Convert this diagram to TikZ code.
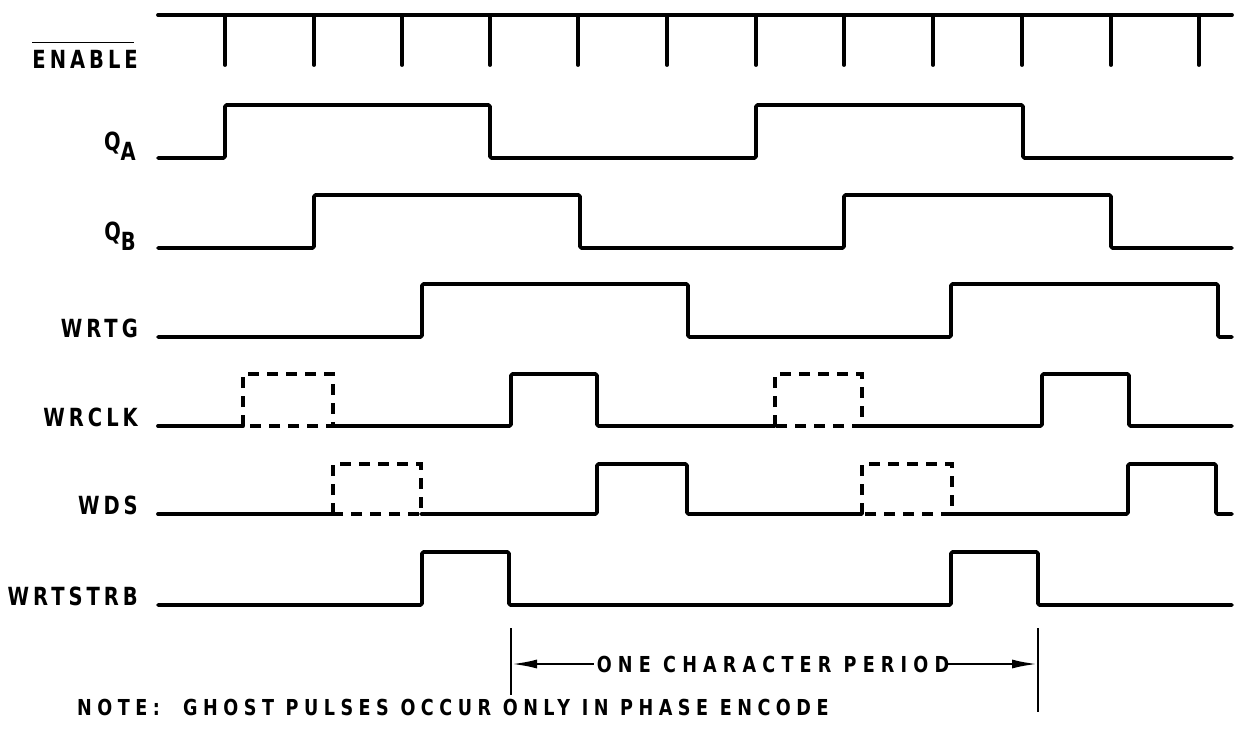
\documentclass[tikz,border=0pt]{standalone}
\usepackage{fontspec}
\usetikzlibrary{arrows.meta}
\newfontfamily\lblfont[FakeStretch=0.78, LetterSpace=16]{DejaVu Sans}
\newfontfamily\notefont[FakeStretch=0.8, LetterSpace=25]{DejaVu Sans}
\newfontfamily\periodfont[FakeStretch=0.8, LetterSpace=28]{DejaVu Sans}
\tikzset{
  wave/.style={draw=black, line width=3.8pt, line join=round, line cap=round, rounded corners=1.5pt},
  ghost/.style={draw=black, line width=3.1pt, dash pattern=on 11pt off 8pt},
  sig-label/.style={font=\lblfont\bfseries\fontsize{25}{25}\selectfont, anchor=base east, inner sep=0pt},
  note-text/.style={font=\notefont\bfseries\fontsize{22}{22}\selectfont, inner sep=0pt},
  period-text/.style={font=\periodfont\bfseries\fontsize{22}{22}\selectfont, inner sep=0pt},
  dim-line/.style={draw=black, line width=2.6pt}
}
\begin{document}
\begin{tikzpicture}[x=1pt, y=-1pt]
  \useasboundingbox (0,0) rectangle (1237,729);

  % ---- Signal labels ------------------------------------------------------
  \node[sig-label] (enable) at (138,68) {ENABLE};
  \draw[line width=1.8pt] ([yshift=7pt]enable.north west) -- ([xshift=-4pt, yshift=7pt]enable.north east);
  \node[sig-label] (qa) at (136,150) {Q\raisebox{-10pt}{A}};
  \node[sig-label] (qb) at (136,240) {Q\raisebox{-10pt}{B}};
  \node[sig-label] (wrtg) at (138,337) {WRTG};
  \node[sig-label] (wrclk) at (138,426) {WRCLK};
  \node[sig-label] (wds) at (138,514) {WDS};
  \node[sig-label] (wrtstrb) at (138,605) {WRTSTRB};

  % ---- ENABLE rail with its ticks -----------------------------------------
  \draw[wave] (158,15) -- (1232,15);
  \foreach \tx in {225,314,402,490,578,667,756,844,933,1022,1111,1199}
    \draw[wave] (\tx,15) -- (\tx,65);

  % ---- Counter outputs ----------------------------------------------------
  \draw[wave] (158,158) -- (225,158) -- (225,105) -- (490,105) -- (490,158)
    -- (756,158) -- (756,105) -- (1023,105) -- (1023,158) -- (1232,158);
  \draw[wave] (158,248) -- (314,248) -- (314,195) -- (580,195) -- (580,248)
    -- (844,248) -- (844,195) -- (1111,195) -- (1111,248) -- (1232,248);

  % ---- Write gate ---------------------------------------------------------
  \draw[wave] (158,337) -- (422,337) -- (422,284) -- (688,284) -- (688,337)
    -- (951,337) -- (951,284) -- (1218,284) -- (1218,337) -- (1232,337);

  % ---- Write clock and data, ghost pulses dashed --------------------------
  \draw[wave] (158,426) -- (243,426);
  \draw[wave] (333,426) -- (511,426) -- (511,374) -- (597,374) -- (597,426) -- (775,426);
  \draw[wave] (862,426) -- (1042,426) -- (1042,374) -- (1129,374) -- (1129,426) -- (1232,426);
  \foreach \xa/\xb in {243/333, 775/862}
    \draw[ghost] (\xa,426) rectangle (\xb,374);

  \draw[wave] (158,514) -- (333,514);
  \draw[wave] (421,514) -- (597,514) -- (597,464) -- (687,464) -- (687,514) -- (862,514);
  \draw[wave] (952,514) -- (1128,514) -- (1128,464) -- (1216,464) -- (1216,514) -- (1232,514);
  \foreach \xa/\xb in {333/421, 862/952}
    \draw[ghost] (\xa,514) rectangle (\xb,464);

  % ---- Write strobe -------------------------------------------------------
  \draw[wave] (158,605) -- (422,605) -- (422,552) -- (509,552) -- (509,605)
    -- (951,605) -- (951,552) -- (1038,552) -- (1038,605) -- (1232,605);

  % ---- Character period dimension -----------------------------------------
  \coordinate (barL-top) at (511,628);
  \coordinate (barL-bot) at (511,695);
  \coordinate (barR-top) at (1038,628);
  \coordinate (barR-bot) at (1038,712);
  \coordinate (perL) at (511,664);
  \coordinate (perR) at (1038,664);
  \draw[dim-line] (barL-top) -- (barL-bot);
  \draw[dim-line] (barR-top) -- (barR-bot);
  \node[period-text] (period) at (773,664) {ONE CHARACTER PERIOD};
  \draw[dim-line, -{Latex[length=26pt, width=9pt]}] ([xshift=-3pt]period.west) -- (perL);
  \draw[dim-line, -{Latex[length=26pt, width=9pt]}] ([xshift=-1pt]period.east) -- (perR);

  % ---- Note ---------------------------------------------------------------
  \node[note-text, anchor=base west] (note) at (77,715)
        {NOTE:\ \ GHOST PULSES OCCUR ONLY IN PHASE ENCODE};

\end{tikzpicture}
\end{document}
